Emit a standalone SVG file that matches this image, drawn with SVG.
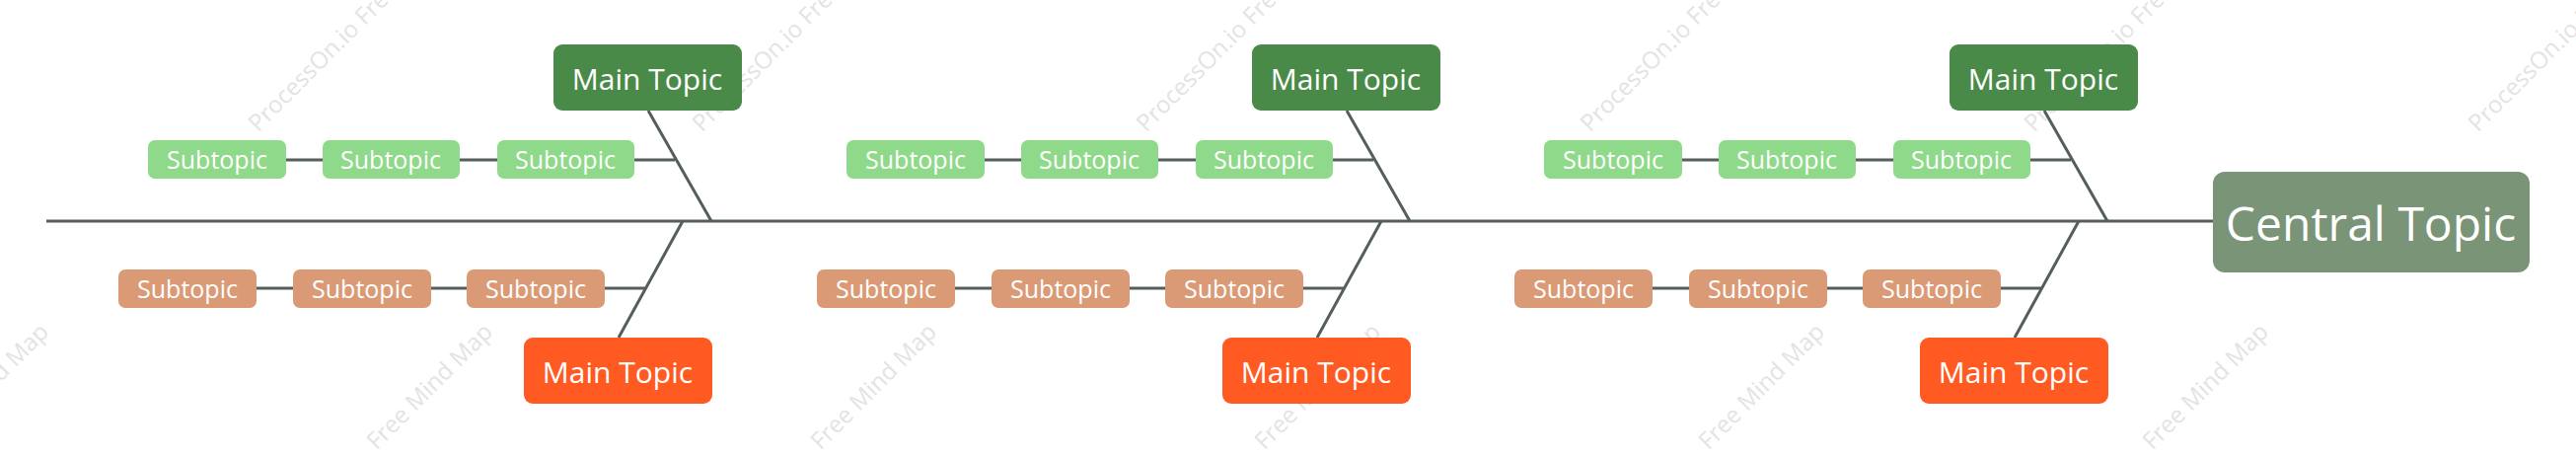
<svg xmlns="http://www.w3.org/2000/svg" width="2611" height="465" viewBox="0 0 2611 465">
<style>
text{font-family:"Open Sans","Noto Sans","Liberation Sans",sans-serif;fill:#fff;text-anchor:middle;dominant-baseline:central}
.tg{fill:#4a8a48}.bo{fill:#ff5a22}.sg{fill:#8fd98a}.so{fill:#da9a76}
.m{font-size:30px}.s{font-size:25px}
.ln{stroke:#555f5a;stroke-width:3;fill:none}
.wm{fill:#e3e3e3;font-size:24px;text-anchor:start}
</style>
<rect width="2611" height="465" fill="#fff"/>
<g id="watermarks">
<text class="wm" transform="translate(255,128) rotate(-45)">ProcessOn.io Free Mind Map</text>
<text class="wm" transform="translate(705,128) rotate(-45)">ProcessOn.io Free Mind Map</text>
<text class="wm" transform="translate(1155,128) rotate(-45)">ProcessOn.io Free Mind Map</text>
<text class="wm" transform="translate(1605,128) rotate(-45)">ProcessOn.io Free Mind Map</text>
<text class="wm" transform="translate(2055,128) rotate(-45)">ProcessOn.io Free Mind Map</text>
<text class="wm" transform="translate(2505,128) rotate(-45)">ProcessOn.io Free Mind Map</text>
<text class="wm" transform="translate(-75,450) rotate(-45)">Free Mind Map</text>
<text class="wm" transform="translate(375,450) rotate(-45)">Free Mind Map</text>
<text class="wm" transform="translate(825,450) rotate(-45)">Free Mind Map</text>
<text class="wm" transform="translate(1275,450) rotate(-45)">Free Mind Map</text>
<text class="wm" transform="translate(1725,450) rotate(-45)">Free Mind Map</text>
<text class="wm" transform="translate(2175,450) rotate(-45)">Free Mind Map</text>
</g>
<g id="connectors" class="ln">
<line x1="47" y1="224" x2="2243" y2="224"/>
<g id="c1">
<path d="M657 112 L721 224 M643 162 H684 M290 162 H327 M466 162 H504"/>
<path d="M692 224 L627 342 M613 292 H655 M260 292 H297 M437 292 H473"/>
</g>
<use href="#c1" x="708"/>
<use href="#c1" x="1415"/>
</g>
<g id="central"><rect x="2243" y="174" width="321" height="102" rx="12" fill="#7a9478"/><text x="2403" y="225" font-size="48">Central Topic</text></g>
<g id="branch1">
<g id="main-top-1"><rect class="tg" x="561" y="45" width="191" height="67" rx="9"/><text class="m" x="656" y="79">Main Topic</text></g>
<g id="sub-top-1a"><rect class="sg" x="150" y="142" width="140" height="39" rx="7"/><text class="s" x="220" y="161">Subtopic</text></g>
<g id="sub-top-1b"><rect class="sg" x="327" y="142" width="139" height="39" rx="7"/><text class="s" x="396" y="161">Subtopic</text></g>
<g id="sub-top-1c"><rect class="sg" x="504" y="142" width="139" height="39" rx="7"/><text class="s" x="573" y="161">Subtopic</text></g>
<g id="main-bot-1"><rect class="bo" x="531" y="342" width="191" height="67" rx="9"/><text class="m" x="626" y="376">Main Topic</text></g>
<g id="sub-bot-1a"><rect class="so" x="120" y="273" width="140" height="39" rx="7"/><text class="s" x="190" y="292">Subtopic</text></g>
<g id="sub-bot-1b"><rect class="so" x="297" y="273" width="140" height="39" rx="7"/><text class="s" x="367" y="292">Subtopic</text></g>
<g id="sub-bot-1c"><rect class="so" x="473" y="273" width="140" height="39" rx="7"/><text class="s" x="543" y="292">Subtopic</text></g>
</g>
<g id="branch2" transform="translate(708,0)">
<g id="main-top-2"><rect class="tg" x="561" y="45" width="191" height="67" rx="9"/><text class="m" x="656" y="79">Main Topic</text></g>
<g id="sub-top-2a"><rect class="sg" x="150" y="142" width="140" height="39" rx="7"/><text class="s" x="220" y="161">Subtopic</text></g>
<g id="sub-top-2b"><rect class="sg" x="327" y="142" width="139" height="39" rx="7"/><text class="s" x="396" y="161">Subtopic</text></g>
<g id="sub-top-2c"><rect class="sg" x="504" y="142" width="139" height="39" rx="7"/><text class="s" x="573" y="161">Subtopic</text></g>
<g id="main-bot-2"><rect class="bo" x="531" y="342" width="191" height="67" rx="9"/><text class="m" x="626" y="376">Main Topic</text></g>
<g id="sub-bot-2a"><rect class="so" x="120" y="273" width="140" height="39" rx="7"/><text class="s" x="190" y="292">Subtopic</text></g>
<g id="sub-bot-2b"><rect class="so" x="297" y="273" width="140" height="39" rx="7"/><text class="s" x="367" y="292">Subtopic</text></g>
<g id="sub-bot-2c"><rect class="so" x="473" y="273" width="140" height="39" rx="7"/><text class="s" x="543" y="292">Subtopic</text></g>
</g>
<g id="branch3" transform="translate(1415,0)">
<g id="main-top-3"><rect class="tg" x="561" y="45" width="191" height="67" rx="9"/><text class="m" x="656" y="79">Main Topic</text></g>
<g id="sub-top-3a"><rect class="sg" x="150" y="142" width="140" height="39" rx="7"/><text class="s" x="220" y="161">Subtopic</text></g>
<g id="sub-top-3b"><rect class="sg" x="327" y="142" width="139" height="39" rx="7"/><text class="s" x="396" y="161">Subtopic</text></g>
<g id="sub-top-3c"><rect class="sg" x="504" y="142" width="139" height="39" rx="7"/><text class="s" x="573" y="161">Subtopic</text></g>
<g id="main-bot-3"><rect class="bo" x="531" y="342" width="191" height="67" rx="9"/><text class="m" x="626" y="376">Main Topic</text></g>
<g id="sub-bot-3a"><rect class="so" x="120" y="273" width="140" height="39" rx="7"/><text class="s" x="190" y="292">Subtopic</text></g>
<g id="sub-bot-3b"><rect class="so" x="297" y="273" width="140" height="39" rx="7"/><text class="s" x="367" y="292">Subtopic</text></g>
<g id="sub-bot-3c"><rect class="so" x="473" y="273" width="140" height="39" rx="7"/><text class="s" x="543" y="292">Subtopic</text></g>
</g>
</svg>
